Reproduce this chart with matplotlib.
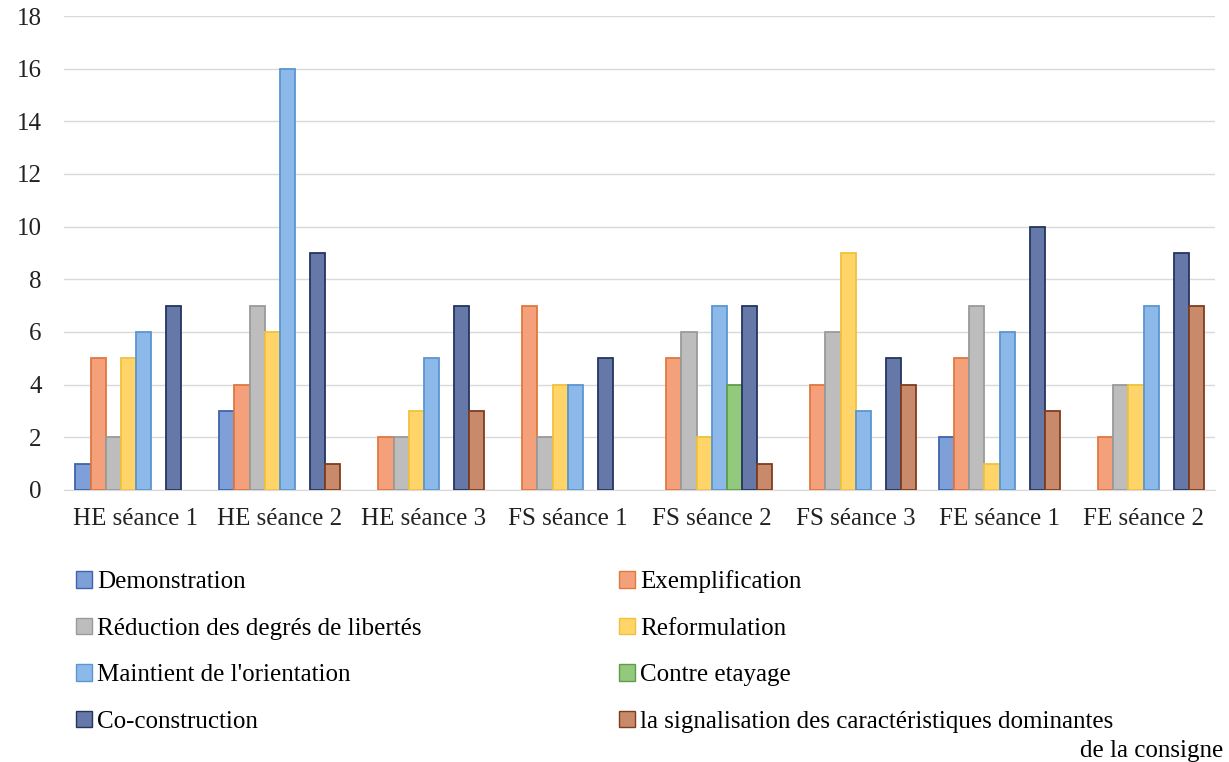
import numpy as np
import matplotlib
matplotlib.use("Agg")
import matplotlib.pyplot as plt

plt.rcParams['font.family'] = ['Liberation Serif', 'DejaVu Serif']

# data
groups = ["HE séance 1", "HE séance 2", "HE séance 3", "FS séance 1",
          "FS séance 2", "FS séance 3", "FE séance 1", "FE séance 2"]
series = ["Demonstration", "Exemplification", "Réduction des degrés de libertés",
          "Reformulation", "Maintient de l'orientation", "Contre etayage",
          "Co-construction", "la signalisation des caractéristiques dominantes"]
demonstration = [1, 3, 0, 0, 0, 0, 2, 0]
exemplification = [5, 4, 2, 7, 5, 4, 5, 2]
reduction = [2, 7, 2, 2, 6, 6, 7, 4]
reformulation = [5, 6, 3, 4, 2, 9, 1, 4]
maintient = [6, 16, 5, 4, 7, 3, 6, 7]
contre_etayage = [0, 0, 0, 0, 4, 0, 0, 0]
co_construction = [7, 9, 7, 5, 7, 5, 10, 9]
signalisation = [0, 1, 3, 0, 1, 4, 3, 7]

values = [demonstration, exemplification, reduction, reformulation,
          maintient, contre_etayage, co_construction, signalisation]
faces = ["#7f9fd8", "#f4a07a", "#bdbdbd", "#ffd468",
         "#8db9ea", "#92c97c", "#6678a8", "#c98a6c"]
edges = ["#3f64ad", "#e07840", "#9a9a9a", "#f2c13a",
         "#5b96d2", "#5e9e48", "#24355f", "#7e3d1d"]

fig = plt.figure(figsize=(12.29, 7.62), dpi=100)
ax = fig.add_axes([0.052, 0.357, 0.937, 0.622])

x = np.arange(len(groups))
w = 0.105
n = len(values)
handles = []
for i, vals in enumerate(values):
    vals = np.array(vals)
    lw = np.where(vals > 0, 1.3, 0)  # zero bars stay invisible
    b = ax.bar(x + (i - (n - 1) / 2) * w, vals, width=w, color=faces[i],
               edgecolor=edges[i], linewidth=lw, label=series[i], zorder=3)
    handles.append(b)

ax.set_xlim(-0.5, len(groups) - 0.5)
ax.set_ylim(0, 18)
ax.set_yticks(range(0, 19, 2))
ax.set_xticks(x)
ax.set_xticklabels(groups)
ax.tick_params(axis='both', length=0, labelsize=18, colors='#222222')
ax.tick_params(axis='x', pad=13)
ax.tick_params(axis='y', pad=16)
ax.grid(axis='y', color='#d9d9d9', linewidth=1, zorder=0)
for s in ['top', 'right', 'left']:
    ax.spines[s].set_visible(False)
ax.spines['bottom'].set_color('#d9d9d9')

# legend fills row by row in the reference
order = [0, 2, 4, 6, 1, 3, 5, 7]
leg = fig.legend([handles[k] for k in order], [series[k] for k in order],
                 loc='upper left', bbox_to_anchor=(0.054, 0.265), ncol=2,
                 frameon=False, fontsize=18, handlelength=0.64,
                 handleheight=0.64, handletextpad=0.2, labelspacing=0.98,
                 columnspacing=7.9, borderaxespad=0)
for h in leg.legend_handles:
    h.set_linewidth(1.0)
fig.text(0.995, 0.0, "de la consigne", ha='right', va='bottom', fontsize=18)

fig.savefig("out.png", dpi=100)
